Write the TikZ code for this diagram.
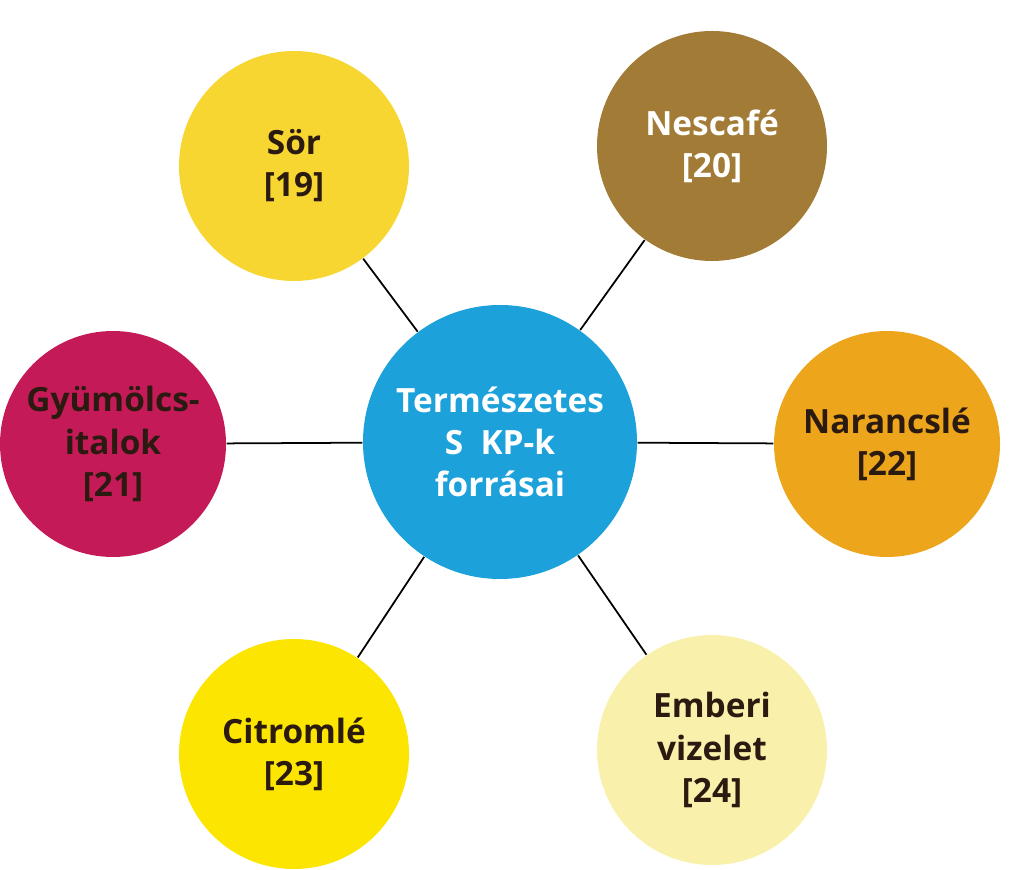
\documentclass[tikz,border=0pt]{standalone}
\usepackage{fontspec}
\setmainfont{Open Sans}
\usepackage{tikz}
\definecolor{sorY}{HTML}{F7D631}
\definecolor{nesB}{HTML}{A27B36}
\definecolor{gyuR}{HTML}{C51A58}
\definecolor{narO}{HTML}{EDA51C}
\definecolor{citY}{HTML}{FCE500}
\definecolor{embY}{HTML}{F9F0AC}
\definecolor{kozB}{HTML}{1CA1DA}
\definecolor{txtD}{HTML}{2B1A10}

\begin{document}
\begin{tikzpicture}[font=\fontsize{9.5}{12}\selectfont\bfseries,
    every node/.style={circle,align=center,inner sep=0pt},
    src/.style={minimum size=2.3cm,text=txtD}]
\useasboundingbox (0,0) rectangle (10.23,8.69);
\begin{scope}
    \node (K) at (5.00,4.27) [fill=kozB,minimum size=2.74cm,text=white] {Természetes\\S\ \ KP-k\\forrásai};
    \node (A) at (2.94,7.03) [src,fill=sorY] {Sör\\{}[19]};
    \node (B) at (7.12,7.23) [src,fill=nesB,text=white] {Nescafé\\{}[20]};
    \node (C) at (1.13,4.25) [src,fill=gyuR,minimum size=2.26cm] {Gyümölcs-\\italok\\{}[21]};
    \node (D) at (8.87,4.25) [src,fill=narO,minimum size=2.26cm] {Narancslé\\{}[22]};
    \node (E) at (2.94,1.15) [src,fill=citY] {Citromlé\\{}[23]};
    \node (F) at (7.12,1.19) [src,fill=embY] {Emberi\\vizelet\\{}[24]};
\end{scope}

\begin{scope}[every edge/.style={draw=black,line width=0.5pt}]
    \path [-] (K) edge (A);
    \path [-] (K) edge (B);
    \path [-] (K) edge (C);
    \path [-] (K) edge (D);
    \path [-] (K) edge (E);
    \path [-] (K) edge (F);
\end{scope}
\end{tikzpicture}
\end{document}
